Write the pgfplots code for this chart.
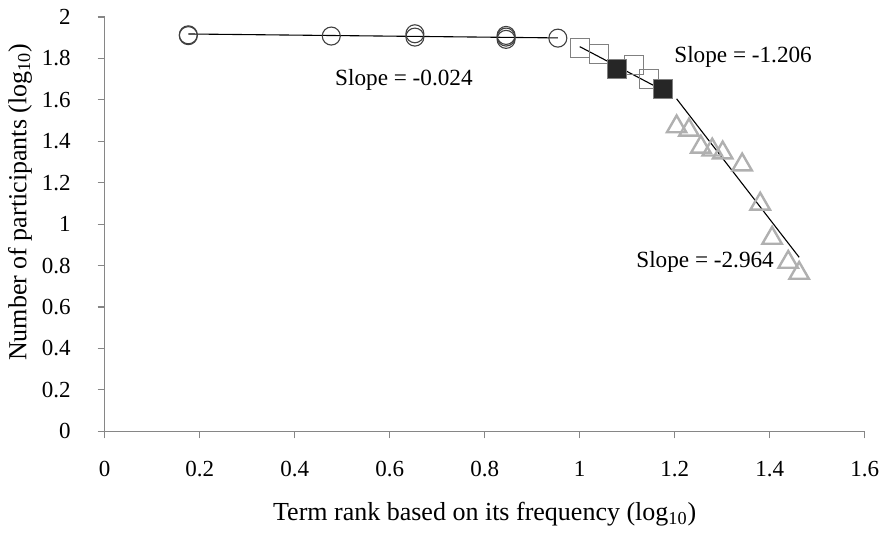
\documentclass[border=0pt]{standalone}
\usepackage{fontspec}
\setmainfont{Liberation Serif}
\usepackage{pgfplots}
\pgfplotsset{compat=1.18}
\definecolor{axisgray}{RGB}{134,134,134}
\definecolor{circcol}{RGB}{64,64,64}
\definecolor{sqcol}{RGB}{128,128,128}
\definecolor{sqfill}{RGB}{38,38,38}
\definecolor{tricol}{RGB}{176,176,176}
\begin{document}
\fontsize{11.5pt}{13pt}\selectfont
\begin{tikzpicture}
\begin{axis}[
  scale only axis, width=380pt, height=207.15pt,
  xmin=0, xmax=1.6, ymin=0, ymax=2,
  axis x line*=bottom, axis y line*=left,
  axis line style={axisgray, line width=0.6pt},
  tick style={axisgray, line width=0.6pt},
  tick align=outside, major tick length=3.5pt,
  xtick={0,0.2,0.4,0.6,0.8,1,1.2,1.4,1.6},
  ytick={0,0.2,0.4,0.6,0.8,1,1.2,1.4,1.6,1.8,2},
  /pgf/number format/fixed,
  /pgf/number format/assume math mode=true,
  tick label style={font=\fontsize{11.5pt}{13pt}\selectfont, black},
  xticklabel style={yshift=-7.5pt},
  yticklabel style={xshift=-9.5pt},
  xlabel={Term rank based on its frequency (log\textsubscript{10})},
  ylabel={Number of participants (log\textsubscript{10})},
  label style={font=\fontsize{13pt}{15pt}\selectfont},
  xlabel style={at={(axis description cs:0.5,-0.2003)}, anchor=center},
  ylabel style={at={(axis description cs:-0.1114,0.553)}, anchor=center},
  clip=false,
]
% circles
\addplot[only marks, mark=o, mark size=4.5pt, mark options={circcol, line width=0.55pt}]
  coordinates {(0.176,1.914) (0.176,1.910) (0.477,1.908) (0.653,1.919) (0.653,1.903)
               (0.845,1.911) (0.845,1.903) (0.845,1.892) (0.954,1.898)};
% open squares
\addplot[only marks, mark=square, mark size=4.7pt, mark options={sqcol, line width=0.55pt}]
  coordinates {(1.000,1.851) (1.041,1.820) (1.114,1.767) (1.146,1.699)};
% filled squares
\addplot[only marks, mark=square*, mark size=4.7pt, mark options={draw=sqcol, fill=sqfill, line width=0.55pt}]
  coordinates {(1.079,1.748) (1.176,1.653)};
% triangles
\addplot[only marks, mark=triangle, mark size=5.6pt, mark options={tricol, line width=1.2pt, yshift=-1.4pt}]
  coordinates {(1.204,1.484) (1.230,1.468) (1.255,1.386) (1.279,1.372) (1.301,1.358)
               (1.342,1.300) (1.380,1.111) (1.405,0.946) (1.439,0.830) (1.462,0.777)};
% trend lines
\addplot[black, line width=0.55pt] coordinates {(0.176,1.918) (0.954,1.899)};
\addplot[black, line width=0.55pt] coordinates {(1.000,1.857) (1.176,1.645)};
\addplot[black, line width=0.55pt] coordinates {(1.204,1.605) (1.462,0.840)};
\node[font=\fontsize{11.6pt}{13pt}\selectfont] at (axis cs:0.630,1.695) {Slope = -0.024};
\node[font=\fontsize{11.6pt}{13pt}\selectfont] at (axis cs:1.344,1.806) {Slope = -1.206};
\node[font=\fontsize{11.6pt}{13pt}\selectfont] at (axis cs:1.264,0.817) {Slope = -2.964};
\end{axis}
\pgfresetboundingbox
\useasboundingbox (-52.35pt,-50.85pt) rectangle (388.15pt,215.65pt);
\end{tikzpicture}
\end{document}
